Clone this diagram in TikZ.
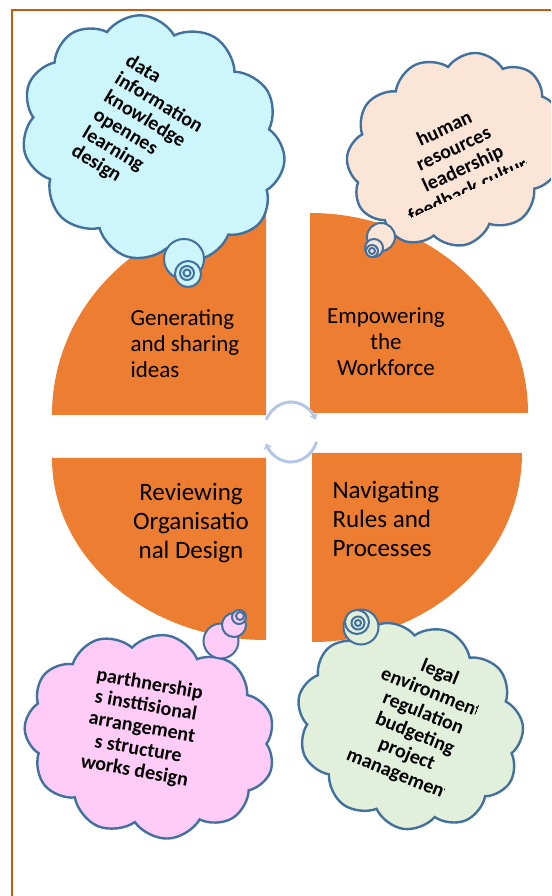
\documentclass[tikz,border=0pt]{standalone}
\usepackage{fontspec}
\setmainfont{Carlito}
\usetikzlibrary{shapes.symbols,arrows.meta}

\definecolor{quarterorange}{HTML}{ED7D31}
\definecolor{frameorange}{HTML}{C55A11}
\definecolor{cloudline}{HTML}{41719C}
\definecolor{skycyan}{HTML}{CCF5FC}
\definecolor{peach}{HTML}{FBE5D6}
\definecolor{candypink}{HTML}{FFCCF8}
\definecolor{mint}{HTML}{E2EFDA}
\definecolor{cyclearrow}{HTML}{B4C7E7}

\begin{document}
\begin{tikzpicture}[x=1pt, y=1pt,
                quarter/.style={fill=quarterorange},
                thought/.style={cloud, cloud puffs=11, cloud puff arc=115, cloud ignores aspect, draw=cloudline, line width=2.4pt, inner sep=0pt},
                bubble/.style={circle, draw=cloudline, line width=2pt, inner sep=0pt},
                phase/.style={font=\fontsize{23}{26}\selectfont, text=black},
                bigphase/.style={font=\fontsize{25}{29}\selectfont, text=black},
                idea/.style={font=\bfseries\fontsize{20}{22}\selectfont, text=black, inner sep=0pt},
                cyclearc/.style={draw=cyclearrow, line width=3pt, -{Stealth[length=6pt,width=9pt]}}
            ]
            \clip (0,0) rectangle (551,896);

            % frame
            \draw[frameorange, line width=2pt] (12,0) -- (12,886) -- (551,886);

            % four quarters
            \fill[quarter] (266,481) -- (52,481) arc[start angle=180, end angle=90, x radius=214, y radius=203] -- cycle;
            \fill[quarter] (310,483) -- (310,683) arc[start angle=90, end angle=0, x radius=218, y radius=200] -- cycle;
            \fill[quarter] (266,438) -- (52,438) arc[start angle=180, end angle=270, x radius=214, y radius=182] -- cycle;
            \fill[quarter] (312,443) -- (522,443) arc[start angle=0, end angle=-90, x radius=210, y radius=189] -- cycle;

            \node[phase, align=left, anchor=west] (G) at (127,552) {Generating\\and sharing\\ideas};
            \node[phase, align=center] (E) at (386,554) {Empowering\\the\\Workforce};
            \node[bigphase, align=center] (R) at (191,373) {Reviewing\\Organisatio\\nal Design};
            \node[bigphase, align=left, anchor=west] (N) at (329,377) {Navigating\\Rules and\\Processes};

            % cycle in the middle
            \coordinate (cyc) at (291,464);
            \draw[cyclearc] ([shift={(156:27 and 30)}]cyc) arc[start angle=156, end angle=24, x radius=27, y radius=30];
            \draw[cyclearc] ([shift={(-19:27 and 30)}]cyc) arc[start angle=-19, end angle=-158, x radius=27, y radius=30];

            % top left cloud
            \node[thought, fill=skycyan, minimum width=272pt, minimum height=238pt, rotate=-31] (C1) at (153,757) {};
            \node[bubble, fill=skycyan, minimum size=40pt] (C1a) at (184,637) {};
            \node[bubble, fill=skycyan, minimum size=26pt] (C1b) at (188,622) {};
            \node[bubble, fill=skycyan, minimum size=14pt] (C1c) at (187,623) {};
            \node[bubble, fill=skycyan, minimum size=7pt] (C1d) at (187,623) {};
            \node[idea, font=\bfseries\fontsize{20}{21}\selectfont, align=left, anchor=west, rotate=-31] (T1) at (100,791) {data\\information\\knowledge\\opennes\\learning\\design};

            % top right cloud
            \node[thought, fill=peach, minimum width=222pt, minimum height=188pt, rotate=25] (C2) at (455,746) {};
            \node[bubble, fill=peach, minimum size=28pt] (C2a) at (381,659) {};
            \node[bubble, fill=peach, minimum size=18pt] (C2b) at (374,648) {};
            \node[bubble, fill=peach, minimum size=12pt] (C2c) at (372,645) {};
            \node[bubble, fill=peach, minimum size=6pt] (C2d) at (372,645) {};
            \begin{scope}[shift={(458,738)}, rotate=25]
                \clip (-80,-34) rectangle (60,60);
                \node[idea, align=center, transform shape] (T2) at (0,0) {human\\resources\\leadership\\feedback culture};
            \end{scope}

            % bottom left cloud
            \node[thought, fill=candypink, minimum width=252pt, minimum height=204pt, rotate=-10] (C3) at (150,160) {};
            \node[bubble, fill=candypink, minimum size=35pt] (C3a) at (221,255) {};
            \node[bubble, fill=candypink, minimum size=24pt] (C3b) at (234,271) {};
            \node[bubble, fill=candypink, minimum size=14pt] (C3c) at (239,279) {};
            \node[bubble, fill=candypink, minimum size=8pt] (C3d) at (240,280) {};
            \node[idea, align=center, rotate=-10] (T3) at (142,168) {parthnership\\s insttisional\\arrangement\\s structure\\works design};

            % bottom right cloud
            \node[thought, fill=mint, minimum width=230pt, minimum height=204pt, rotate=-22] (C4) at (410,170) {};
            \node[bubble, fill=mint, minimum size=35pt] (C4a) at (361,269) {};
            \node[bubble, fill=mint, minimum size=24pt] (C4b) at (357,274) {};
            \node[bubble, fill=mint, minimum size=13pt] (C4c) at (358,273) {};
            \node[bubble, fill=mint, minimum size=6pt] (C4d) at (358,273) {};
            \begin{scope}[shift={(419,172)}, rotate=-22]
                \clip (-80,-80) rectangle (48,80);
                \node[idea, align=center, transform shape] (T4) at (0,0) {legal\\environment\\regulation\\budgeting\\project\\management};
            \end{scope}
\end{tikzpicture}
\end{document}
